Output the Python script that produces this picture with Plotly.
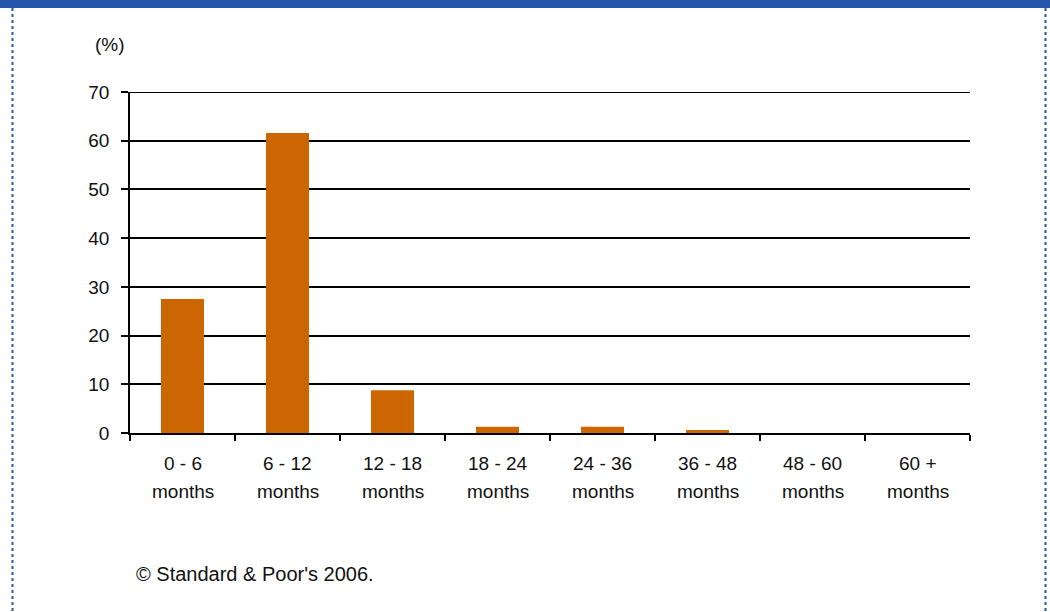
import plotly.graph_objects as go

categories = ["0 - 6<br>months", "6 - 12<br>months", "12 - 18<br>months", "18 - 24<br>months",
              "24 - 36<br>months", "36 - 48<br>months", "48 - 60<br>months", "60 +<br>months"]
values = [27.5, 61.6, 8.8, 1.3, 1.3, 0.6, 0.0, 0.0]
y_ticks = [0, 10, 20, 30, 40, 50, 60, 70]

W, H = 1050, 612
L, R, T, B = 130, 80, 92, 179
pw, ph = W - L - R, H - T - B

def px(x):
    return (x - L) / pw

def py(y):
    return (H - B - y) / ph

fig = go.Figure(go.Bar(x=categories, y=values, marker=dict(color="#CC6600", line=dict(width=0))))

font = dict(family="Liberation Sans, Arial, sans-serif", size=19, color="#111111")
foot_font = dict(family="Liberation Sans, Arial, sans-serif", size=20, color="#111111")

annotations = [
    dict(text="(%)", xref="paper", yref="paper", x=px(110), y=py(45), showarrow=False,
         font=font, xanchor="center", yanchor="middle"),
    dict(text="© Standard &amp; Poor's 2006.", xref="paper", yref="paper", x=px(134), y=py(574),
         showarrow=False, font=foot_font, xanchor="left", yanchor="middle"),
]
for c in categories:
    first, second = c.split("<br>")
    annotations.append(dict(text=first, xref="x", yref="paper", x=c, y=py(463), showarrow=False,
                            font=font, xanchor="center", yanchor="middle"))
    annotations.append(dict(text=second, xref="x", yref="paper", x=c, y=py(491), showarrow=False,
                            font=font, xanchor="center", yanchor="middle"))

fig.update_layout(
    width=W, height=H,
    margin=dict(l=L, r=R, t=T, b=B),
    paper_bgcolor="white", plot_bgcolor="white",
    bargap=0.59,
    showlegend=False,
    font=font,
    xaxis=dict(type="category", showline=True, linecolor="black", linewidth=2,
               ticks="outside", tickson="boundaries", ticklen=6, tickcolor="black",
               tickwidth=2, showgrid=False, showticklabels=False),
    yaxis=dict(range=[0, 70], tickvals=y_ticks, showline=True, linecolor="black", linewidth=1.5,
               ticks="outside", ticklen=7, tickcolor="black", tickwidth=1.5, showgrid=True,
               gridcolor="black", gridwidth=1.5, zeroline=False, tickfont=font,
               ticklabelstandoff=8),
    shapes=[
        dict(type="line", xref="paper", yref="y", x0=0, x1=1, y0=70, y1=70,
             line=dict(color="black", width=2)),
        dict(type="rect", xref="paper", yref="paper", x0=px(0), x1=px(W), y0=py(0), y1=py(8),
             fillcolor="#2457AB", line=dict(width=0), layer="above"),
        dict(type="line", xref="paper", yref="paper", x0=px(12.5), x1=px(12.5), y0=py(8), y1=py(H),
             line=dict(color="#2457AB", width=2, dash="dot")),
        dict(type="line", xref="paper", yref="paper", x0=px(1045.5), x1=px(1045.5), y0=py(8), y1=py(H),
             line=dict(color="#2457AB", width=2, dash="dot")),
    ],
    annotations=annotations,
)

fig.write_html("out.html")
